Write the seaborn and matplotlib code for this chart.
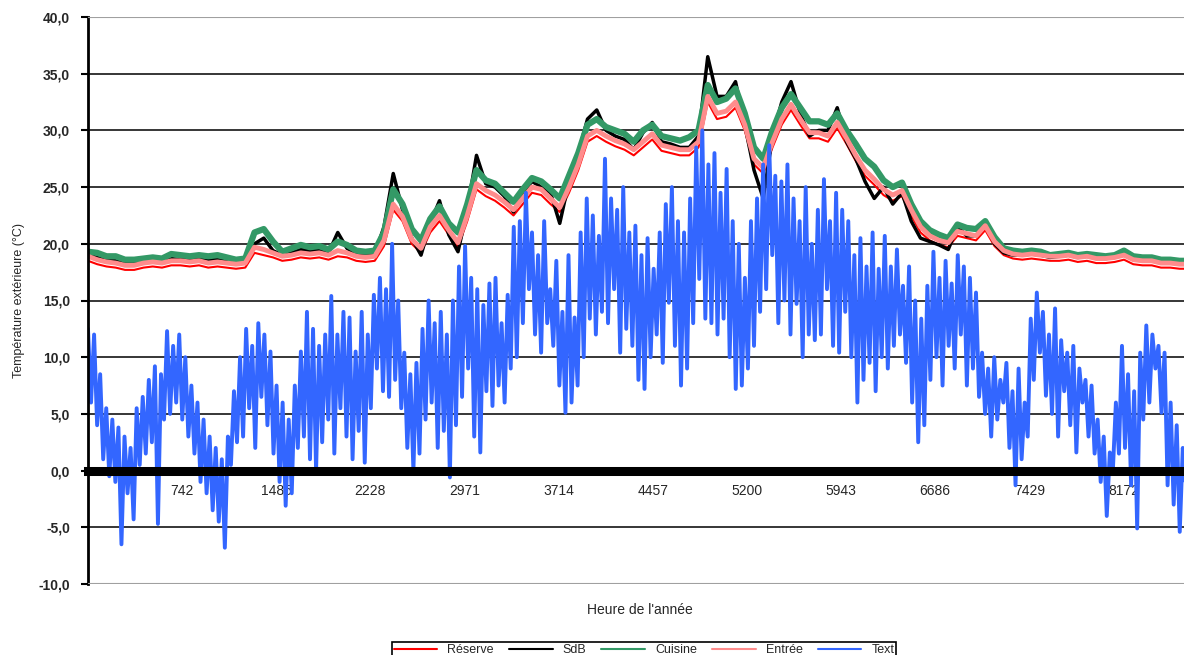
import numpy as np
import seaborn as sns
import matplotlib
matplotlib.use("Agg")
import matplotlib.pyplot as plt
from matplotlib.ticker import FuncFormatter

# interior temperatures, one reading every 73 h
cuisine = [19.3, 19.2, 18.9, 18.9, 18.6, 18.6, 18.7, 18.8, 18.7, 19.1, 19.0, 18.9, 19.0, 18.9, 19.0, 18.8, 18.6, 18.7,
           21.0, 21.3, 20.2, 19.3, 19.6, 19.9, 19.7, 19.8, 19.5, 20.2, 19.9, 19.4, 19.3, 19.4,
           21.0, 24.8, 23.5, 21.3, 20.3, 22.2, 23.3, 21.8, 21.0, 23.5, 26.5, 25.6, 25.3, 24.5, 23.7, 24.8, 25.8, 25.5, 24.8, 24.0, 26.0, 28.0,
           30.5, 31.0, 30.3, 30.0, 29.7, 29.0, 30.0, 30.5, 29.5, 29.3, 29.1, 29.4, 30.0,
           34.0, 32.5, 32.8, 33.7, 31.5, 28.5, 27.5, 30.0, 32.0, 33.2, 32.0, 30.8, 30.8, 30.5,
           31.5, 30.0, 28.8, 27.5, 26.8, 25.6, 25.0, 25.4, 23.5, 22.0, 21.2, 20.8, 20.5, 21.7, 21.4, 21.3, 22.0, 20.6, 19.6,
           19.4, 19.3, 19.4, 19.3, 19.0, 19.1, 19.2, 19.0, 19.1, 19.0, 18.9, 19.0, 19.4, 18.9, 18.8, 18.8, 18.6, 18.6, 18.5, 18.5, 18.5]

sdb = [19.0, 18.8, 18.5, 18.5, 18.3, 18.3, 18.4, 18.5, 18.4, 18.7, 18.6, 18.6, 18.7, 18.5, 18.7, 18.5, 18.3, 18.4,
       20.0, 20.5, 19.4, 19.0, 19.2, 19.5, 19.4, 19.5, 19.2, 21.0, 19.6, 19.1, 19.0, 19.1,
       21.5, 26.2, 23.0, 20.5, 19.0, 21.8, 23.8, 20.8, 19.3, 23.0, 27.8, 25.3, 25.0, 24.2, 22.8, 24.5, 25.5, 25.0, 24.5, 21.8, 25.5, 28.0,
       31.0, 31.8, 30.0, 29.5, 29.2, 28.3, 29.8, 30.7, 29.0, 28.8, 28.5, 28.5, 29.5,
       36.5, 33.0, 33.0, 34.3, 30.5, 26.5, 24.0, 29.5, 32.5, 34.3, 31.5, 29.5, 30.0, 30.0,
       32.0, 29.0, 27.5, 25.5, 24.0, 25.0, 23.5, 24.5, 22.0, 20.5, 20.2, 19.9, 19.5, 21.5, 20.7, 20.7, 21.8, 20.0, 19.2,
       19.0, 19.0, 19.1, 19.0, 18.8, 18.9, 19.0, 18.8, 18.9, 18.8, 18.7, 18.8, 19.2, 18.7, 18.6, 18.6, 18.4, 18.4, 18.3, 18.3, 18.3]

reserve = [18.5, 18.2, 18.0, 17.9, 17.7, 17.7, 17.9, 18.0, 17.9, 18.1, 18.1, 18.0, 18.1, 17.9, 18.0, 17.9, 17.8, 17.9,
           19.2, 19.0, 18.8, 18.5, 18.6, 18.8, 18.7, 18.8, 18.6, 18.9, 18.8, 18.5, 18.4, 18.5,
           19.8, 23.0, 22.0, 20.0, 19.2, 21.0, 22.0, 20.8, 19.7, 22.0, 24.8, 24.2, 23.8, 23.2, 22.5, 23.5, 24.5, 24.3, 23.5, 22.8, 24.5, 26.5,
           29.0, 29.5, 29.0, 28.6, 28.3, 27.8, 28.5, 29.2, 28.2, 28.0, 27.8, 27.8, 28.5,
           32.5, 31.0, 31.2, 32.0, 30.0, 27.0, 26.2, 28.5, 30.5, 31.8, 30.5, 29.3, 29.3, 29.0,
           30.2, 28.8, 27.3, 26.0, 25.2, 24.3, 23.8, 24.2, 22.5, 21.0, 20.3, 19.9, 19.7, 20.7, 20.5, 20.3, 21.2, 19.8, 19.0,
           18.7, 18.6, 18.7, 18.6, 18.5, 18.5, 18.6, 18.4, 18.5, 18.3, 18.3, 18.4, 18.6, 18.2, 18.1, 18.1, 17.9, 17.9, 17.8, 17.8, 17.8]

entree = [18.9, 18.6, 18.4, 18.3, 18.1, 18.1, 18.3, 18.4, 18.3, 18.5, 18.5, 18.4, 18.5, 18.3, 18.4, 18.3, 18.2, 18.3,
          19.7, 19.5, 19.2, 18.9, 19.0, 19.2, 19.1, 19.2, 19.0, 19.4, 19.2, 18.9, 18.8, 18.9,
          20.3, 23.5, 22.4, 20.4, 19.6, 21.5, 22.5, 21.2, 20.1, 22.5, 25.3, 24.7, 24.3, 23.7, 23.0, 24.0, 25.0, 24.8, 24.0, 23.2, 25.0, 27.0,
          29.5, 30.0, 29.5, 29.1, 28.8, 28.3, 29.0, 29.7, 28.7, 28.5, 28.3, 28.3, 29.0,
          33.0, 31.5, 31.7, 32.5, 30.5, 27.5, 26.7, 29.0, 31.0, 32.3, 31.0, 29.8, 29.8, 29.5,
          30.7, 29.3, 27.8, 26.5, 25.7, 24.8, 24.3, 24.7, 23.0, 21.5, 20.7, 20.3, 20.1, 21.1, 20.9, 20.7, 21.6, 20.2, 19.4,
          19.1, 19.0, 19.1, 19.0, 18.9, 18.9, 19.0, 18.8, 18.9, 18.7, 18.7, 18.8, 19.0, 18.6, 18.5, 18.5, 18.3, 18.3, 18.2, 18.2, 18.2]

# outdoor temperature, one reading per day (alternating day high / night low)
text = [12.5, 6.0, 12.0, 4.0, 8.5, 1.0, 5.5, -0.5, 4.5, -1.0,
        3.8, -6.5, 3.0, -2.0, 2.0, -4.3, 5.5, 0.5, 6.5, 1.5,
        8.0, 2.5, 9.2, -4.7, 8.5, 4.5, 12.3, 5.0, 11.0, 6.0,
        12.0, 4.5, 10.0, 3.0, 7.5, 1.5, 6.0, -1.0, 4.5, -2.0,
        3.0, -3.5, 2.0, -4.5, 1.0, -6.8, 3.0, 0.5, 7.0, 2.5,
        10.0, 3.0, 12.5, 5.5, 11.0, 2.0, 13.0, 6.5, 12.0, 4.0,
        10.5, 1.5, 7.5, -1.0, 6.0, -3.1, 4.5, -2.0, 7.5, 2.0,
        10.5, 3.0, 14.0, 1.0, 12.5, 0.0, 11.0, 2.5, 12.0, 4.5,
        15.4, 1.5, 12.0, 5.5, 14.0, 3.0, 13.5, 1.0, 10.5, 3.5,
        14.0, 0.7, 12.0, 5.5, 15.5, 9.0, 17.0, 7.0, 16.0, 6.5,
        20.0, 8.0, 15.0, 5.5, 10.4, 2.0, 8.5, 0.0, 9.5, 1.5,
        12.5, 4.5, 15.0, 6.0, 13.0, 2.0, 14.0, 3.5, 12.0, -0.6,
        15.0, 4.0, 18.0, 6.5, 19.8, 9.0, 17.0, 3.0, 16.0, 1.6,
        14.6, 7.0, 16.5, 5.7, 17.0, 7.5, 13.0, 6.0, 15.5, 9.0,
        21.5, 10.0, 22.0, 13.0, 24.5, 16.0, 21.0, 12.0, 19.0, 10.4,
        22.0, 13.0, 16.0, 11.0, 18.5, 7.5, 14.0, 5.1, 19.0, 6.0,
        13.5, 7.5, 21.0, 10.0, 24.0, 13.4, 22.5, 12.0, 20.7, 14.0,
        27.5, 13.0, 24.0, 16.0, 23.0, 10.4, 25.0, 12.5, 21.0, 11.0,
        21.6, 8.0, 19.0, 7.2, 20.5, 10.0, 17.8, 12.0, 21.0, 9.5,
        23.5, 14.8, 25.0, 11.0, 22.0, 7.5, 21.0, 9.0, 24.0, 13.0,
        28.5, 16.9, 30.0, 13.4, 27.0, 13.0, 28.0, 12.0, 24.5, 13.4,
        26.6, 10.0, 22.0, 7.2, 20.0, 7.5, 17.0, 9.0, 22.0, 11.0,
        24.0, 14.0, 27.0, 16.0, 28.7, 19.0, 26.0, 13.0, 25.5, 15.0,
        27.0, 12.0, 24.0, 14.7, 22.0, 10.0, 25.0, 12.0, 20.0, 11.5,
        23.0, 12.0, 25.7, 16.0, 22.0, 11.0, 24.5, 10.4, 23.0, 14.0,
        22.0, 10.0, 19.0, 6.0, 20.5, 8.0, 18.0, 9.5, 21.0, 7.0,
        17.8, 10.0, 20.7, 9.0, 18.0, 11.0, 19.5, 12.0, 16.3, 9.5,
        18.0, 6.0, 15.0, 2.5, 13.4, 4.0, 16.3, 8.0, 19.3, 10.0,
        17.0, 7.5, 18.5, 11.0, 16.5, 9.0, 19.0, 12.0, 18.0, 7.5,
        17.0, 9.0, 15.7, 6.5, 10.4, 5.0, 9.0, 3.0, 10.0, 4.5,
        8.0, 6.0, 9.5, 2.0, 7.0, -1.3, 9.0, 1.0, 6.0, 3.0,
        13.4, 8.0, 15.7, 10.4, 14.0, 6.6, 12.0, 5.0, 14.3, 3.0,
        11.5, 7.0, 10.4, 4.0, 11.0, 1.6, 9.0, 6.0, 8.0, 3.0,
        7.5, 1.5, 4.5, -1.0, 3.0, -4.0, 1.6, 0.0, 6.0, 1.5,
        11.0, 2.0, 8.5, -1.3, 7.0, -5.1, 10.4, 4.5, 12.8, 6.0,
        12.0, 9.0, 11.0, 5.1, 10.4, -1.3, 6.0, -3.0, 4.0, -5.4,
        2.0, -2.0, 1.0, -5.0, 0.5, -3.0]

xtick_pos = [742, 1485, 2228, 2971, 3714, 4457, 5200, 5943, 6686, 7429, 8172]
xtick_labels = [str(v) for v in xtick_pos]
yticks = [-10, -5, 0, 5, 10, 15, 20, 25, 30, 35, 40]

sns.set_theme(style="white")
plt.rcParams["font.family"] = ["Liberation Sans", "DejaVu Sans"]

fig = plt.figure(figsize=(11.84, 6.55), dpi=100)
ax = fig.add_axes([88 / 1184, 71 / 655, 1110 / 1184, 567 / 655])

h_int = np.arange(len(cuisine)) * 73
h_ext = np.arange(len(text)) * 24

sns.lineplot(x=h_int, y=reserve, ax=ax, color="#ff0000", lw=1.5, label="Réserve", estimator=None, sort=False)
sns.lineplot(x=h_int, y=sdb, ax=ax, color="black", lw=2.5, label="SdB", estimator=None, sort=False)
sns.lineplot(x=h_int, y=cuisine, ax=ax, color="#339966", lw=4.5, label="Cuisine", estimator=None, sort=False)
sns.lineplot(x=h_int, y=entree, ax=ax, color="#ff8c8c", lw=3.5, label="Entrée", estimator=None, sort=False)
sns.lineplot(x=h_ext, y=text, ax=ax, color="#3366ff", lw=2.8, label="Text", estimator=None, sort=False)

ax.set_xlim(0, 8760)
ax.set_ylim(-10, 40)
ax.set_yticks(yticks)
ax.yaxis.set_major_formatter(FuncFormatter(lambda v, p: f"{v:.1f}".replace(".", ",")))
ax.set_xticks(xtick_pos)
ax.set_xticklabels(xtick_labels)

ax.grid(axis="y", color="black", lw=1.1)
ax.grid(axis="x", visible=False)
ax.axhline(40, color="#a0a0a0", lw=1.5, zorder=3)
ax.axhline(-10, color="#a0a0a0", lw=1.5, zorder=3)

for s in ["top", "right"]:
    ax.spines[s].set_visible(False)
ax.spines["left"].set_color("black")
ax.spines["left"].set_linewidth(2)
ax.spines["bottom"].set_position(("data", 0))
ax.spines["bottom"].set_color("black")
ax.spines["bottom"].set_linewidth(6.5)

ax.tick_params(axis="y", left=True, length=5, width=1.5, color="black", labelsize=10, pad=8)
ax.tick_params(axis="x", bottom=False, length=0, labelsize=10, pad=10)
for t in ax.get_yticklabels():
    t.set_fontweight("bold")

ax.set_ylabel("Température extérieure (°C)", fontsize=9)
ax.yaxis.set_label_coords(-0.057, 0.5)
ax.set_xlabel("Heure de l'année", fontsize=10)
ax.xaxis.set_label_coords(0.497, -0.034)

handles, labels = ax.get_legend_handles_labels()
ax.get_legend().remove()
leg = fig.legend(handles, labels, loc="upper center", bbox_to_anchor=(0.544, 1 - 636 / 655),
                 ncol=5, frameon=True, fancybox=False, edgecolor="black", fontsize=9,
                 handlelength=3.5, columnspacing=1.2, borderpad=0.15, framealpha=1)
for line in leg.get_lines():
    line.set_linewidth(1.5)
leg.get_frame().set_linewidth(1.2)

fig.savefig("out.png", dpi=100)
